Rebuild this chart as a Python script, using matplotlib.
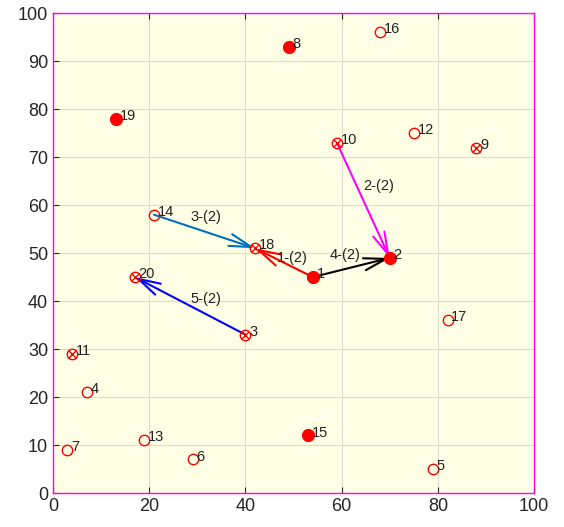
import matplotlib
matplotlib.use('Agg')
import matplotlib.pyplot as plt

# node positions (id 1..20)
node_x = [54, 70, 40, 7, 79, 29, 3, 49, 88, 59, 4, 75, 19, 21, 53, 68, 82, 42, 13, 17]
node_y = [45, 49, 33, 21, 5, 7, 9, 93, 72, 73, 29, 75, 11, 58, 12, 96, 36, 51, 78, 45]
filled_nodes = [1, 2, 8, 15, 19]
crossed_nodes = [3, 9, 10, 11, 18, 20]

# links: from node -> to node, label, colour
link_from = [1, 10, 14, 1, 3]
link_to = [18, 2, 18, 2, 20]
link_labels = ['1-(2)', '2-(2)', '3-(2)', '4-(2)', '5-(2)']
link_colors = ['#FF0000', '#FF00FF', '#0072BD', '#000000', '#0000FF']
label_dx = [-1.5, 0, -3, -4.5, 0]
label_dy = [1, 3, 3, 2.5, 1.5]

plt.rcParams['font.family'] = ['Liberation Sans', 'DejaVu Sans']

fig = plt.figure(figsize=(5.64, 5.27), dpi=100)
ax = fig.add_axes([0.094, 0.0645, 0.853, 0.9105])
ax.set_facecolor('#FFFFE6')

for i in range(len(node_x)):
    nid = i + 1
    x, y = node_x[i], node_y[i]
    if nid in filled_nodes:
        ax.plot(x, y, 'o', color='#FF0000', markersize=8.5, zorder=3)
    else:
        ax.plot(x, y, 'o', mfc='none', mec='#FF0000', markersize=7.5, mew=1, zorder=3)
        if nid in crossed_nodes:
            ax.plot(x, y, 'x', color='#FF0000', markersize=5.5, mew=1, zorder=3)
    ax.text(x + 0.8, y + 0.6, str(nid), fontsize=10.5, color='#222222', va='center', ha='left', zorder=4)

for k in range(len(link_from)):
    a = link_from[k] - 1
    b = link_to[k] - 1
    ax.annotate('', xy=(node_x[b], node_y[b]), xytext=(node_x[a], node_y[a]),
                arrowprops=dict(arrowstyle='->,head_length=0.8,head_width=0.22',
                                color=link_colors[k], lw=1.5, shrinkA=0, shrinkB=0,
                                mutation_scale=20), zorder=2)
    mx = (node_x[a] + node_x[b]) / 2 + label_dx[k]
    my = (node_y[a] + node_y[b]) / 2 + label_dy[k]
    ax.text(mx, my, link_labels[k], fontsize=10.5, color='#222222', ha='left', va='center', zorder=4)

ax.set_xlim(0, 100)
ax.set_ylim(0, 100)
ax.set_xticks(range(0, 101, 20))
ax.set_yticks(range(0, 101, 10))
ax.grid(True, color='#DDDDCC', linewidth=0.8)
ax.set_axisbelow(True)
ax.tick_params(direction='in', top=True, right=False, labelsize=13, colors='#262626',
               length=4)
for s in ax.spines.values():
    s.set_color('#FF00FF')
    s.set_linewidth(1)

fig.savefig('out.png', dpi=100)
